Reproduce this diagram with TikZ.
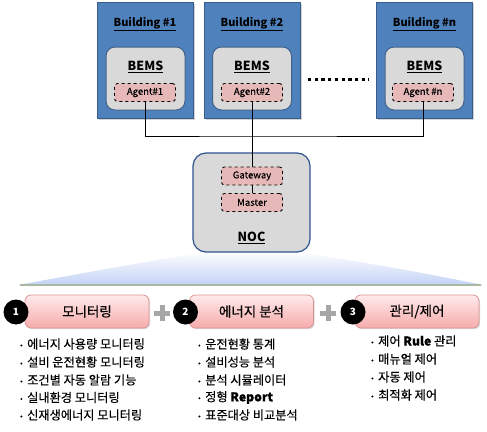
\documentclass[tikz,border=0pt]{standalone}
\usepackage{fontspec}
\setmainfont{Noto Sans CJK KR}
\newfontfamily\medfont{Noto Sans CJK KR}[FakeBold=0.35]
\usetikzlibrary{shadows}
\definecolor{bldblue}{HTML}{4F81BD}
\definecolor{bldborder}{HTML}{385D8A}
\definecolor{innergray}{HTML}{D9D9D9}
\definecolor{innerborder}{HTML}{41628C}
\definecolor{agentpink}{HTML}{E6B9B8}
\definecolor{nocborder}{HTML}{2F528F}
\definecolor{pinktop}{HTML}{FFEAEA}
\definecolor{pinkbot}{HTML}{F6ABAB}
\definecolor{pinkborder}{HTML}{D99694}
\definecolor{fanblue}{HTML}{C3D2F5}
\definecolor{fanedge}{HTML}{A8B8A2}
\definecolor{plusgray}{HTML}{A6A6A6}
\tikzset{
  bld/.style={draw=bldborder, line width=1pt, fill=bldblue, minimum width=96pt, minimum height=116pt,
    drop shadow={shadow xshift=1.5pt, shadow yshift=-1.5pt, opacity=0.35}},
  innerbox/.style={draw=innerborder, line width=1pt, fill=innergray, rounded corners=9pt,
    minimum width=79pt, minimum height=63pt},
  agent/.style={draw=black, dashed, line width=0.9pt, fill=agentpink, rounded corners=3pt,
    minimum width=61pt, minimum height=18pt, inner sep=0pt, font=\fontsize{9.5}{10}\medfont},
  bldlabel/.style={text=black, font=\fontsize{11}{12}\selectfont\bfseries},
  bemslabel/.style={text=black, font=\fontsize{12.5}{13}\selectfont\bfseries},
  nocbox/.style={draw=nocborder, line width=1.2pt, fill=innergray, rounded corners=13pt,
    minimum width=117pt, minimum height=99pt},
  titlebox/.style={draw=pinkborder, line width=0.8pt, top color=pinktop, bottom color=pinkbot,
    rounded corners=6pt, minimum width=124pt, minimum height=33pt, font=\fontsize{13.5}{14}\medfont,
    drop shadow={shadow xshift=1.2pt, shadow yshift=-1.2pt, opacity=0.3}},
  numcirc/.style={circle, fill=black, text=white, minimum size=25pt, inner sep=0pt,
    font=\fontsize{10}{11}\selectfont\bfseries},
  item/.style={anchor=west, inner sep=0pt, font=\fontsize{12.2}{13}\medfont},
  conn/.style={draw=black, line width=0.9pt},
}
\newcommand{\bul}[1]{\makebox[7pt][l]{\raisebox{1pt}{\fontsize{7}{7}\selectfont•}}#1}
\begin{document}
\begin{tikzpicture}[x=1pt,y=-1pt]
\useasboundingbox (0,0) rectangle (487,431);
% buildings
\node[bld] (b1) at (145,60) {};
\node[bld] (b2) at (252,60) {};
\node[bld] (bn) at (424.5,60) {};
\node[bldlabel] (t1) at (145,24) {\underline{Building \#1}};
\node[bldlabel] (t2) at (252,24) {\underline{Building \#2}};
\node[bldlabel] (tn) at (424.5,24) {\underline{Building \#n}};
\node[innerbox] (i1) at (145.5,78.5) {};
\node[innerbox] (i2) at (252,78.5) {};
\node[innerbox] (in) at (424.5,78.5) {};
\node[bemslabel] (m1) at (145.5,67) {\underline{BEMS}};
\node[bemslabel] (m2) at (252,67) {\underline{BEMS}};
\node[bemslabel] (mn) at (424.5,67) {\underline{BEMS}};
\node[agent] (a1) at (145,92.5) {Agent\#1};
\node[agent] (a2) at (252,92.5) {Agent\#2};
\node[agent] (an) at (423,92.5) {Agent \#n};
% dots
\draw[line width=3pt, dash pattern=on 3.3pt off 3.4pt] (308,79) -- (369,79);
% fan
\shade[top color=white, bottom color=fanblue]
  (18,285) .. controls (100,270) and (165,258) .. (215,251) -- (290,251)
  .. controls (340,258) and (420,272) .. (483,285) -- cycle;
\draw[fanedge, line width=1.6pt] (20,285) -- (481,285);
% NOC
\node[nocbox] (noc) at (251.5,202.5) {};
\node[agent] (gw) at (252,176) {Gateway};
\node[agent] (ms) at (252,202.5) {Master};
\node[bemslabel] (nocl) at (251.5,238) {\underline{NOC}};
% connectors
\coordinate (bus) at (252,136);
\draw[conn] (a1.south) |- (bus) -| (an.south);
\draw[conn] (a2.south) -- (gw.north);
\draw[conn] (gw.south) -- (ms.north);
% bottom title boxes
\node[titlebox] (p1) at (87,311.5) {모니터링};
\node[titlebox] (p2) at (251.5,311.5) {에너지 분석};
\node[titlebox] (p3) at (417,311.5) {관리/제어};
\node[numcirc] (c1) at (16,312) {1};
\node[numcirc] (c2) at (185.5,312) {2};
\node[numcirc] (c3) at (353,312) {3};
% plus signs
\fill[plusgray] (154,310.5) rectangle (170,315.5);
\fill[plusgray] (159.5,305) rectangle (164.5,321);
\fill[plusgray] (320,310.5) rectangle (336,315.5);
\fill[plusgray] (325.5,305) rectangle (330.5,321);
% lists
\node[item] (l11) at (20,344) {\bul{에너지 사용량 모니터링}};
\node[item] (l12) at (20,362) {\bul{설비 운전현황 모니터링}};
\node[item] (l13) at (20,380) {\bul{조건별 자동 알람 기능}};
\node[item] (l14) at (20,397.5) {\bul{실내환경 모니터링}};
\node[item] (l15) at (20,415) {\bul{신재생에너지 모니터링}};
\node[item] (l21) at (198,344) {\bul{운전현황 통계}};
\node[item] (l22) at (198,362) {\bul{설비성능 분석}};
\node[item] (l23) at (198,380) {\bul{분석 시뮬레이터}};
\node[item] (l24) at (198,397.5) {\bul{정형 \textbf{Report}}};
\node[item] (l25) at (198,415) {\bul{표준대상 비교분석}};
\node[item] (l31) at (371,341) {\bul{제어 \textbf{Rule} 관리}};
\node[item] (l32) at (371,359) {\bul{매뉴얼 제어}};
\node[item] (l33) at (371,377) {\bul{자동 제어}};
\node[item] (l34) at (371,395) {\bul{최적화 제어}};
\end{tikzpicture}
\end{document}
